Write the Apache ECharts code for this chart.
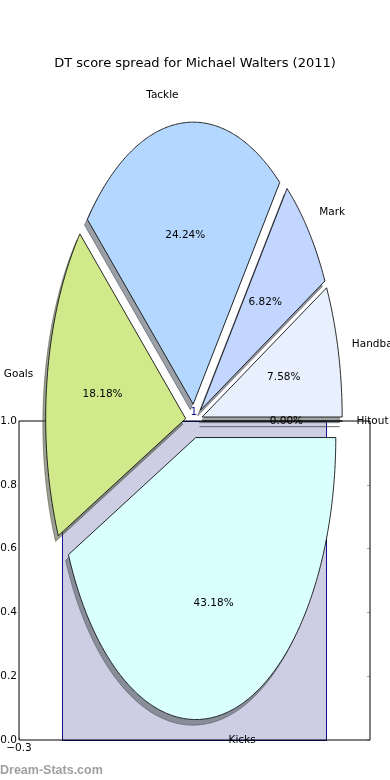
<!DOCTYPE html>
<html><head><meta charset="utf-8">
<script src="https://cdn.jsdelivr.net/npm/echarts@6/dist/echarts.min.js"></script>
<style>html,body{margin:0;padding:0;background:#fff}#c{width:390px;height:780px}</style>
</head><body><div id="c"></div>
<script>
// ---- data ----
const chartTitle = 'DT score spread for Michael Walters (2011)';
const categories = ['Hitout', 'Handball', 'Mark', 'Tackle', 'Goals', 'Kicks'];
const points = [0, 10, 9, 32, 24, 57];
const barValues = [1];
const yTickValues = [0, 0.2, 0.4, 0.6, 0.8, 1.0];
const xTickValues = [-0.3];
const watermark = 'Dream-Stats.com';

// ---- styles / layout ----
const sliceColors = ['#eeeeee', '#e8f0fe', '#c2d6ff', '#b3d7ff', '#cfe98b', '#d9ffff'];
const EXPLODE = 0.06, SHADOW_OFF = -0.02, LABEL_D = 1.1, PCT_D = 0.6;
const BAR_X = 0.23, BAR_W = 0.8;
const FONT = '"DejaVu Sans", sans-serif';

const total = points.reduce((a, b) => a + b, 0);
const starts = [];
{ let acc = 0; points.forEach(v => { starts.push(acc / total * 360); acc += v; }); }

function geom(i) {
  const t1 = starts[i] * Math.PI / 180;
  const t2 = (starts[i] + points[i] / total * 360) * Math.PI / 180;
  const tm = (t1 + t2) / 2;
  return { t1, t2, tm, cx: EXPLODE * Math.cos(tm), cy: EXPLODE * Math.sin(tm) };
}
function wedgePts(api, i, ox, oy) {
  const g = geom(i);
  const pts = [api.coord([g.cx + ox, g.cy + oy])];
  const n = Math.max(1, Math.ceil((g.t2 - g.t1) / (Math.PI / 360)));
  for (let k = 0; k <= n; k++) {
    const t = g.t1 + (g.t2 - g.t1) * k / n;
    pts.push(api.coord([g.cx + ox + Math.cos(t), g.cy + oy + Math.sin(t)]));
  }
  return pts;
}
function shade(hex) {
  const r = parseInt(hex.slice(1, 3), 16), g = parseInt(hex.slice(3, 5), 16), b = parseInt(hex.slice(5, 7), 16);
  return 'rgba(' + Math.round(r * 0.3) + ',' + Math.round(g * 0.3) + ',' + Math.round(b * 0.3) + ',0.5)';
}

const chart = echarts.init(document.getElementById('c'), null, { renderer: 'canvas' });
const pieData = categories.map((c, i) => [i, points[i]]);

chart.setOption({
  animation: false,
  backgroundColor: '#fff',
  title: {
    text: chartTitle, left: 'center', top: 52,
    textStyle: { fontFamily: FONT, fontSize: 13, fontWeight: 'normal', color: '#000' }
  },
  graphic: [{
    type: 'text', left: 0, top: 764, z: 10,
    style: { text: watermark, font: 'bold 12.5px "Liberation Sans", sans-serif', fill: '#a0a0a0' }
  }],
  grid: [
    { left: 19, top: 421, width: 351, height: 319, show: true, borderColor: '#000', borderWidth: 1, backgroundColor: 'transparent', z: 1, outerBoundsMode: 'none', containLabel: false },
    { left: 0, top: 0, width: 390, height: 780, show: false, outerBoundsMode: 'none', containLabel: false }
  ],
  xAxis: [
    {
      type: 'value', gridIndex: 0, min: -0.3, max: 0.7636,
      axisLine: { show: false }, splitLine: { show: false },
      axisTick: { show: true, customValues: xTickValues, inside: true, length: 3, lineStyle: { color: '#999' } },
      axisLabel: {
        customValues: xTickValues, margin: 3, fontFamily: FONT, fontSize: 10.5, color: '#000',
        formatter: v => (v < 0 ? '\u2212' : '') + Math.abs(v).toFixed(1)
      }
    },
    { type: 'value', gridIndex: 1, min: -1.3857, max: 1.4, show: false }
  ],
  yAxis: [
    {
      type: 'value', gridIndex: 0, min: 0, max: 1, interval: 0.2,
      axisLine: { show: false }, splitLine: { show: false },
      axisTick: { show: true, inside: true, length: 3, lineStyle: { color: '#aaa' } },
      axisLabel: { margin: 2, fontFamily: FONT, fontSize: 10.5, color: '#000', formatter: v => v.toFixed(1) }
    },
    { type: 'value', gridIndex: 1, min: -1.27305, max: 1.49291, show: false },
    {
      type: 'value', gridIndex: 0, position: 'right', min: 0, max: 1, interval: 0.2,
      axisLine: { show: false }, splitLine: { show: false }, axisLabel: { show: false },
      axisTick: { show: true, inside: true, length: 3, lineStyle: { color: '#aaa' } }
    }
  ],
  series: [
    {
      type: 'custom', xAxisIndex: 0, yAxisIndex: 0, z: 0.5, silent: true,
      data: barValues.map(v => [BAR_X, v]),
      renderItem(params, api) {
        const c = api.value(0), v = api.value(1);
        const p0 = api.coord([c - BAR_W / 2, 0]), p1 = api.coord([c + BAR_W / 2, v]);
        return {
          type: 'group', children: [
            { type: 'rect', shape: { x: Math.round(p0[0]) + 0.5, y: Math.round(p1[1]) + 0.5, width: Math.round(p1[0] - p0[0]), height: Math.round(p0[1] - p1[1]) },
              style: { fill: '#cdcde4', stroke: '#10108f', lineWidth: 1 } },
            { type: 'text', style: { text: String(v), x: (p0[0] + p1[0]) / 2, y: p1[1] - 3, align: 'center', verticalAlign: 'bottom', fill: '#10108f', font: '10.5px ' + FONT } }
          ]
        };
      }
    },
    {
      type: 'custom', xAxisIndex: 1, yAxisIndex: 1, z: 3, silent: true,
      data: pieData,
      renderItem(params, api) {
        const i = api.value(0);
        const col = shade(sliceColors[i]);
        return { type: 'polygon', shape: { points: wedgePts(api, i, SHADOW_OFF, SHADOW_OFF) }, style: { fill: col, stroke: col, lineWidth: 1 } };
      }
    },
    {
      type: 'custom', xAxisIndex: 1, yAxisIndex: 1, z: 4, silent: true,
      data: pieData,
      renderItem(params, api) {
        const i = api.value(0);
        return { type: 'polygon', shape: { points: wedgePts(api, i, 0, 0) }, style: { fill: sliceColors[i], stroke: '#111', lineWidth: 0.9 } };
      }
    },
    {
      type: 'custom', xAxisIndex: 1, yAxisIndex: 1, z: 5, silent: true,
      data: pieData,
      renderItem(params, api) {
        const i = api.value(0), v = api.value(1);
        const g = geom(i);
        const lp = api.coord([g.cx + LABEL_D * Math.cos(g.tm), g.cy + LABEL_D * Math.sin(g.tm)]);
        const pp = api.coord([g.cx + PCT_D * Math.cos(g.tm), g.cy + PCT_D * Math.sin(g.tm)]);
        return {
          type: 'group', children: [
            { type: 'text', style: { text: categories[i], x: lp[0], y: lp[1], align: Math.cos(g.tm) > 0 ? 'left' : 'right', verticalAlign: 'middle', fill: '#000', font: '10.5px ' + FONT } },
            { type: 'text', style: { text: (v / total * 100).toFixed(2) + '%', x: pp[0], y: pp[1], align: 'center', verticalAlign: 'middle', fill: '#000', font: '10.5px ' + FONT } }
          ]
        };
      }
    }
  ]
});
</script></body></html>
